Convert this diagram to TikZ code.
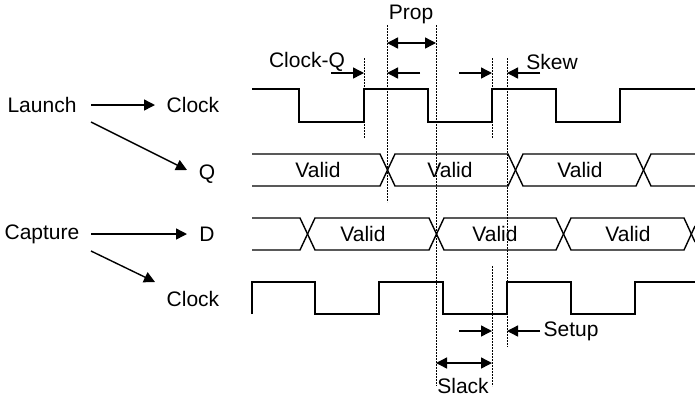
\documentclass[tikz,border=0pt]{standalone}
\usepackage{fontspec}
\setmainfont{Liberation Sans}
\usetikzlibrary{arrows.meta}
\begin{document}
\begin{tikzpicture}[x=0.5pt,y=-0.5pt,
  sig/.style={line width=0.7pt},
  guide/.style={line width=0.45pt,dash pattern=on 0.9pt off 0.6pt},
  arr/.style={line width=0.7pt,-{Triangle[length=5.5pt,width=5.5pt]}},
  darr/.style={line width=0.7pt,{Triangle[length=5.5pt,width=5.5pt]}-{Triangle[length=5.5pt,width=5.5pt]}},
  lbl/.style={font=\fontsize{10.5pt}{12pt}\selectfont,inner sep=1pt}]
\useasboundingbox (0,0) rectangle (695,398);
% left labels
\node[lbl] (launch) at (42,105) {Launch};
\node[lbl] (lclk) at (193,105) {Clock};
\node[lbl] (q) at (207,174) {Q};
\node[lbl] (capture) at (42,234) {Capture};
\node[lbl] (d) at (207,234) {D};
\node[lbl] (cclk) at (193,299) {Clock};
\coordinate (la1) at (91,105); \coordinate (la2) at (155,105);
\coordinate (lb1) at (91,122); \coordinate (lb2) at (187,170);
\coordinate (ca1) at (91,234); \coordinate (ca2) at (187,234);
\coordinate (cb1) at (91,251); \coordinate (cb2) at (155,282);
\draw[arr] (la1) -- (la2);
\draw[arr] (lb1) -- (lb2);
\draw[arr] (ca1) -- (ca2);
\draw[arr] (cb1) -- (cb2);
% launch clock
\draw[sig] (252,89) -- (299,89) -- (299,122) -- (364,122) -- (364,89) -- (428,89) -- (428,122) -- (492,122) -- (492,89) -- (556,89) -- (556,122) -- (620,122) -- (620,89) -- (695,89);
% Q bus
\draw[sig] (252,154) -- (380,154) -- (395,186) -- (508,186) -- (523,154) -- (636,154) -- (651,186) -- (695,186);
\draw[sig] (252,186) -- (380,186) -- (395,154) -- (508,154) -- (523,186) -- (636,186) -- (651,154) -- (695,154);
\node[lbl] (v1) at (318,170) {Valid};
\node[lbl] (v2) at (450,170) {Valid};
\node[lbl] (v3) at (580,170) {Valid};
% D bus
\draw[sig] (252,218) -- (300,218) -- (315,250) -- (429,250) -- (444,218) -- (556,218) -- (571,250) -- (684,250) -- (695,226);
\draw[sig] (252,250) -- (300,250) -- (315,218) -- (429,218) -- (444,250) -- (556,250) -- (571,218) -- (684,218) -- (695,242);
\node[lbl] (v4) at (363,234) {Valid};
\node[lbl] (v5) at (495,234) {Valid};
\node[lbl] (v6) at (628,234) {Valid};
% capture clock
\draw[sig] (252,314) -- (252,282) -- (315,282) -- (315,314) -- (379,314) -- (379,282) -- (443,282) -- (443,314) -- (507,314) -- (507,282) -- (571,282) -- (571,314) -- (635,314) -- (635,282) -- (695,282);
% guides
\draw[guide] (364,58) -- (364,138);
\draw[guide] (387,25) -- (387,202);
\draw[guide] (436,25) -- (436,386);
\draw[guide] (492,58) -- (492,138);
\draw[guide] (492,266) -- (492,386);
\draw[guide] (507,58) -- (507,347);
% top annotations
\node[lbl] (prop) at (411,14) {Prop};
\coordinate (p1) at (387,43); \coordinate (p2) at (436,43);
\draw[darr] (p1) -- (p2);
\node[lbl] (cq) at (307,62) {Clock-Q};
\coordinate (cq1) at (331,73); \coordinate (cq2) at (364,73);
\draw[arr] (cq1) -- (cq2);
\coordinate (pa1) at (420,73); \coordinate (pa2) at (387,73);
\draw[arr] (pa1) -- (pa2);
\coordinate (sa1) at (459,73); \coordinate (sa2) at (492,73);
\draw[arr] (sa1) -- (sa2);
\node[lbl] (skew) at (552,62) {Skew};
\coordinate (sb1) at (540,73); \coordinate (sb2) at (507,73);
\draw[arr] (sb1) -- (sb2);
% bottom annotations
\coordinate (su1) at (459,331); \coordinate (su2) at (492,331);
\draw[arr] (su1) -- (su2);
\node[lbl] (setup) at (571,331) {Setup};
\coordinate (su3) at (540,331); \coordinate (su4) at (507,331);
\draw[arr] (su3) -- (su4);
\coordinate (sl1) at (436,363); \coordinate (sl2) at (492,363);
\draw[darr] (sl1) -- (sl2);
\node[lbl] (slack) at (463,386) {Slack};
\end{tikzpicture}
\end{document}
